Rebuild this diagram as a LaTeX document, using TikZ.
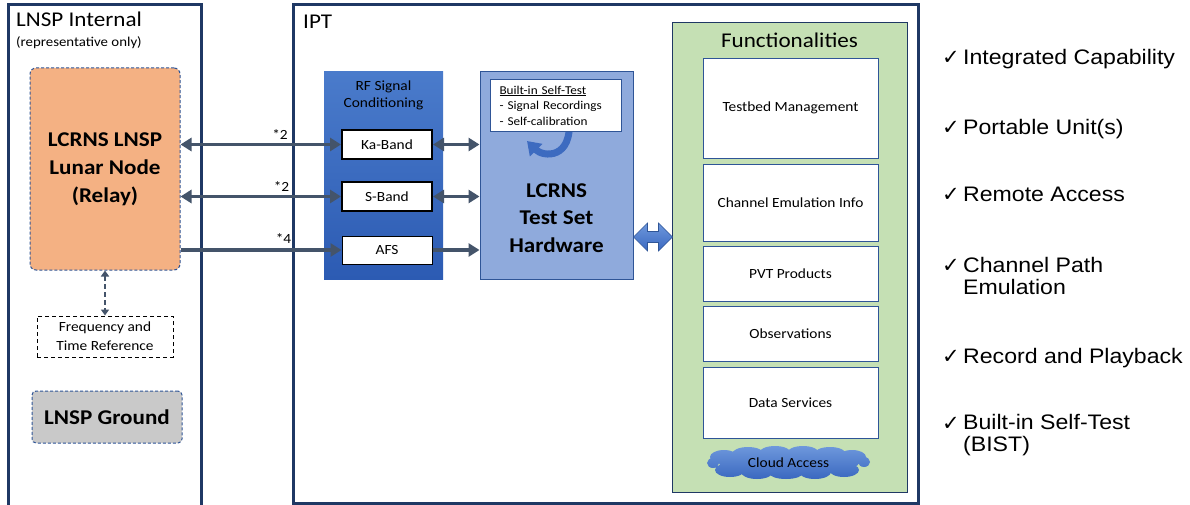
\documentclass[tikz,border=0pt]{standalone}
\usepackage{fontspec}
\setmainfont{Carlito}[FakeStretch=1.1]
\newfontfamily\arialf{Liberation Sans}[FakeStretch=1.1]
\newfontfamily\djv{DejaVu Sans}
\usetikzlibrary{arrows.meta,calc}
\definecolor{navy}{HTML}{1F3864}
\definecolor{slate}{HTML}{44546A}
\definecolor{orangefill}{HTML}{F4B183}
\definecolor{dashblue}{HTML}{2F5597}
\definecolor{rftop}{HTML}{4A7BCB}
\definecolor{rfbot}{HTML}{2C5BB3}
\definecolor{tshfill}{HTML}{8FAADC}
\definecolor{greenfill}{HTML}{C5E0B4}
\definecolor{grayfill}{HTML}{C9C9C9}
\definecolor{cloudtop}{HTML}{6E98DC}
\definecolor{cloudbot}{HTML}{3A68C0}
\definecolor{arcblue}{HTML}{3D6BC0}
\begin{document}
\begin{tikzpicture}[x=1pt,y=-1pt,
  frame/.style={draw=navy,line width=3pt},
  ttl/.style={font=\fontsize{21}{25}\selectfont, anchor=base west, inner sep=0pt},
  bigbold/.style={font=\bfseries\fontsize{21}{28}\selectfont, align=center},
  conn/.style={draw=slate, line width=3.5pt},
  lbl/.style={font=\fontsize{14}{17}\selectfont, anchor=base, inner sep=0pt},
  bandbox/.style={draw=black, fill=white, minimum width=90, minimum height=29, inner sep=0pt, font=\fontsize{14}{17}\selectfont},
  funcbox/.style={draw=dashblue, line width=0.8pt, fill=white, minimum width=175, inner sep=0pt, font=\fontsize{14}{17}\selectfont},
  item/.style={font=\arialf\fontsize{21}{22}\selectfont, anchor=base west, inner sep=0pt, align=left},
  chk/.style={font=\djv\fontsize{21}{21}\selectfont, anchor=base west, inner sep=0pt},
  >={Triangle[length=11pt,width=13pt]}
]
\useasboundingbox (0,0) rectangle (1190,505);
\fill[white] (0,0) rectangle (1190,505);

% frames
\draw[frame] (8,507) -- (8,5) -- (201,5) -- (201,507);
\draw[frame] (293,5) rectangle (918,503);

\node[ttl] (lnsptitle) at (16,27) {LNSP Internal};
\node[anchor=base west, inner sep=0pt, font=\fontsize{13.5}{16}\selectfont] (repr) at (16,47) {(representative only)};
\node[ttl] (ipttitle) at (303,29) {IPT};

% LNSP side
\node[draw=dashblue, line width=1pt, dash pattern=on 3pt off 2pt, fill=orangefill, rounded corners=6pt,
      minimum width=150, minimum height=202, bigbold] (relay) at (105,169) {LCRNS LNSP\\Lunar Node\\(Relay)};
\node[draw=black, line width=1pt, dash pattern=on 4pt off 3pt, minimum width=136, minimum height=41,
      align=center, font=\fontsize{14}{19}\selectfont] (freq) at (105,336.5) {Frequency and\\Time Reference};
\node[draw=dashblue, line width=1pt, dash pattern=on 3pt off 2pt, fill=grayfill, rounded corners=4pt,
      minimum width=150, minimum height=52, font=\bfseries\fontsize{21}{25}\selectfont] (ground) at (107,417) {LNSP Ground};
\draw[draw=slate, line width=2pt, dash pattern=on 5pt off 3pt,
      {Triangle[length=6pt,width=8pt]}-{Triangle[length=6pt,width=8pt]}] (relay.south) -- (freq.north);

% RF conditioning
\node[top color=rftop, bottom color=rfbot, minimum width=119, minimum height=207, inner sep=0pt] (rf) at (383.5,175.5) {};
\node[align=center, font=\fontsize{14}{17}\selectfont] (rftxt) at (383.5,95) {RF Signal\\Conditioning};
\node[bandbox, line width=2pt] (ka) at (387,144.5) {Ka-Band};
\node[bandbox, line width=2pt] (sb) at (387,196.5) {S-Band};
\node[bandbox, line width=1pt, minimum height=28] (afs) at (387,250) {AFS};

% Test set hardware
\node[draw=dashblue, line width=1pt, fill=tshfill, minimum width=153, minimum height=207] (tsh) at (556.5,175.5) {};
\draw[arcblue, line width=7pt, -{Triangle[length=13pt,width=17pt]}]
  (569,118) .. controls (573,160) and (543,157) .. (527,141);
\node[draw=dashblue, line width=1pt, fill=white, minimum width=131, minimum height=52, anchor=north west,
      align=left, text width=113, inner xsep=9pt, font=\fontsize{12}{15.5}\selectfont] (bist) at (490,79)
      {\underline{Built-in Self-Test}\\- Signal Recordings\\- Self-calibration};
\node[font=\bfseries\fontsize{21}{27.5}\selectfont, align=center] (tshtxt) at (556.5,218) {LCRNS\\Test Set\\Hardware};

% connectors
\draw[conn,<->] (relay.east |- ka.west) -- (ka.west);
\draw[conn,<->] (relay.east |- sb.west) -- (sb.west);
\draw[conn,->] (relay.east |- afs.west) -- (afs.west);
\draw[conn,<->] (ka.east) -- (ka.east -| tsh.west);
\draw[conn,<->] (sb.east) -- (sb.east -| tsh.west);
\draw[conn,->] (afs.east) -- (afs.east -| tsh.west);
\node[lbl] (m1) at (280,140) {*2};
\node[lbl] (m2) at (281.5,192) {*2};
\node[lbl] (m3) at (283.5,243) {*4};

% Functionalities
\node[draw=navy, line width=1pt, fill=greenfill, minimum width=235, minimum height=470, anchor=north west, inner sep=0pt] (func) at (672,22) {};
\node[font=\fontsize{21}{25}\selectfont] (functitle) at (789.5,40) {Functionalities};
\node[funcbox, minimum height=100] (tb) at (790.5,108) {Testbed Management};
\node[funcbox, minimum height=77] (ch) at (790.5,202.5) {Channel Emulation Info};
\node[funcbox, minimum height=55] (pvt) at (790.5,273.5) {PVT Products};
\node[funcbox, minimum height=55] (obs) at (790.5,333.5) {Observations};
\node[funcbox, minimum height=71] (ds) at (790.5,402.5) {Data Services};

% cloud shape
\shade[top color=cloudtop, bottom color=cloudbot]
  (789,463) ellipse[x radius=70, y radius=11]
  (724,457) ellipse[x radius=14, y radius=7]
  (748,454) ellipse[x radius=16, y radius=7]
  (775,453) ellipse[x radius=16, y radius=7]
  (803,453) ellipse[x radius=16, y radius=7]
  (830,454) ellipse[x radius=16, y radius=7]
  (852,457) ellipse[x radius=14, y radius=7]
  (730,470) ellipse[x radius=15, y radius=7]
  (757,472) ellipse[x radius=16, y radius=7]
  (786,473) ellipse[x radius=17, y radius=6]
  (815,472) ellipse[x radius=16, y radius=7]
  (844,470) ellipse[x radius=15, y radius=7]
  (713,463) ellipse[x radius=6, y radius=5]
  (864,462) ellipse[x radius=6, y radius=5];
\node[font=\fontsize{14}{17}\selectfont, inner sep=0pt] (cloud) at (788.5,463) {Cloud Access};

% block double arrow
\coordinate (da) at (tsh.east |- 0,237);
\draw[draw=dashblue, line width=0.6pt, top color=cloudtop, bottom color=cloudbot]
  (da) -- ++(14,-14) -- ++(0,8.5) -- ++(11,0) -- ++(0,-8.5) -- ++(14,14)
  -- ++(-14,14) -- ++(0,-8.5) -- ++(-11,0) -- ++(0,8.5) -- cycle;

% right list
\node[chk] (k1) at (942,65) {✓};
\node[item] (i1) at (963,65) {Integrated Capability};
\node[chk] (k2) at (942,135) {✓};
\node[item] (i2) at (963,135) {Portable Unit(s)};
\node[chk] (k3) at (942,201) {✓};
\node[item] (i3) at (963,201) {Remote Access};
\node[chk] (k4) at (942,272) {✓};
\node[item] (i4) at (963,294) {Channel Path\\Emulation};
\node[chk] (k5) at (942,363) {✓};
\node[item] (i5) at (963,363) {Record and Playback};
\node[chk] (k6) at (942,430) {✓};
\node[item] (i6) at (963,451) {Built-in Self-Test\\(BIST)};
\end{tikzpicture}
\end{document}
